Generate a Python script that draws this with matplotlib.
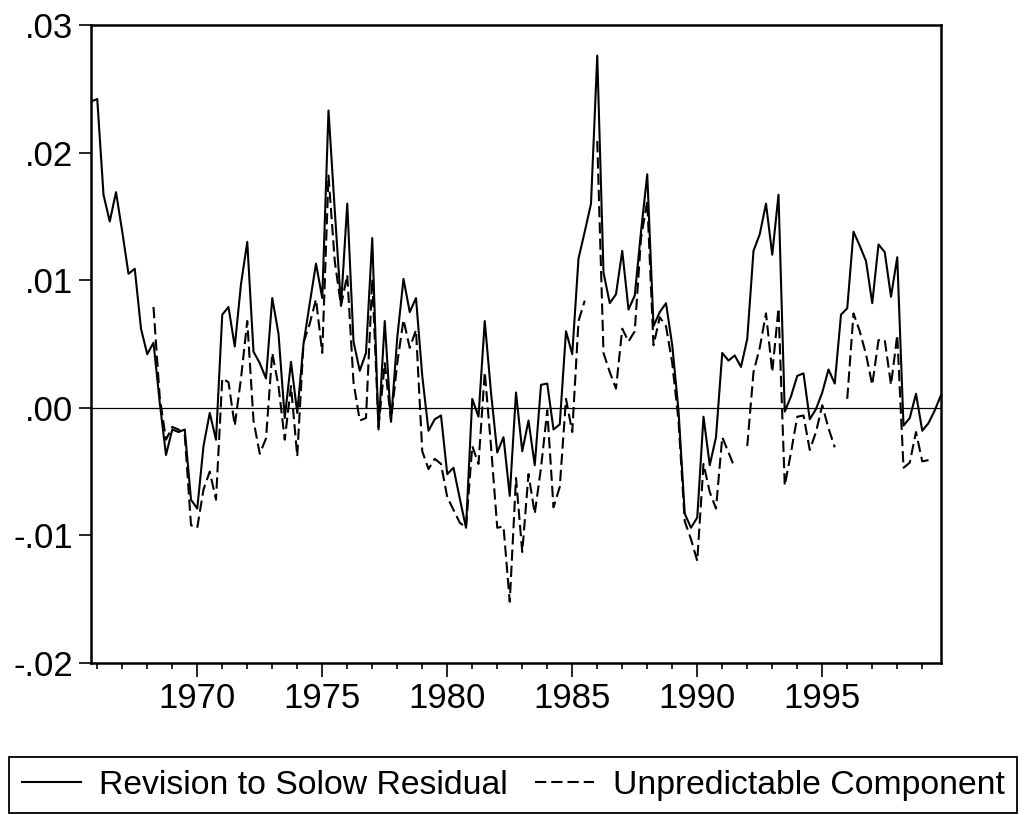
import numpy as np
import pandas as pd
import matplotlib
matplotlib.use('Agg')
from matplotlib import pyplot as plt

# quarterly sample 1965Q4 - 1999Q4
quarters = pd.period_range('1965Q4', '1999Q4', freq='Q')

# Revision to Solow Residual
revision = [
    0.0240, 0.0242, 0.0167, 0.0146, 0.0169, 0.0138, 0.0105, 0.0109, 0.0062, 0.0042,
    0.0051, 0.0004, -0.0037, -0.0017, -0.0019, -0.0017, -0.0072, -0.0079, -0.0030, -0.0004,
    -0.0025, 0.0073, 0.0079, 0.0048, 0.0097, 0.0130, 0.0044, 0.0035, 0.0023, 0.0086,
    0.0058, -0.0008, 0.0036, -0.0004, 0.0050, 0.0082, 0.0113, 0.0086, 0.0233, 0.0155,
    0.0080, 0.0160, 0.0052, 0.0029, 0.0043, 0.0133, -0.0017, 0.0068, -0.0011, 0.0055,
    0.0101, 0.0075, 0.0086, 0.0025, -0.0018, -0.0009, -0.0006, -0.0052, -0.0047, -0.0071,
    -0.0094, 0.0007, -0.0007, 0.0068, 0.0012, -0.0035, -0.0023, -0.0069, 0.0012, -0.0034,
    -0.0010, -0.0045, 0.0018, 0.0019, -0.0017, -0.0013, 0.0060, 0.0042, 0.0117, 0.0138,
    0.0160, 0.0276, 0.0106, 0.0082, 0.0089, 0.0123, 0.0077, 0.0088, 0.0138, 0.0183,
    0.0064, 0.0075, 0.0082, 0.0049, -0.0002, -0.0083, -0.0094, -0.0086, -0.0007, -0.0045,
    -0.0023, 0.0043, 0.0037, 0.0041, 0.0032, 0.0054, 0.0123, 0.0136, 0.0160, 0.0120,
    0.0167, -0.0003, 0.0009, 0.0025, 0.0027, -0.0009, -0.0001, 0.0012, 0.0030, 0.0019,
    0.0073, 0.0078, 0.0138, 0.0127, 0.0115, 0.0082, 0.0128, 0.0122, 0.0087, 0.0118,
    -0.0014, -0.0008, 0.0011, -0.0018, -0.0012, -0.0002, 0.0010,
]

# Unpredictable Component (nan = missing)
nan = np.nan
unpredictable = [
    nan, nan, nan, nan, nan, nan, nan, nan, nan, nan,
    0.0079, 0.0008, -0.0025, -0.0015, -0.0017, -0.0021, -0.0092, -0.0094, -0.0064, -0.0050,
    -0.0072, 0.0023, 0.0020, -0.0014, 0.0023, 0.0068, -0.0010, -0.0036, -0.0024, 0.0043,
    0.0017, -0.0025, 0.0017, -0.0038, 0.0051, 0.0066, 0.0085, 0.0043, 0.0182, 0.0115,
    0.0080, 0.0104, 0.0020, -0.0010, -0.0008, 0.0101, -0.0015, 0.0035, -0.0010, 0.0035,
    0.0069, 0.0047, 0.0061, -0.0034, -0.0048, -0.0040, -0.0044, -0.0070, -0.0080, -0.0090,
    -0.0094, -0.0030, -0.0044, 0.0028, -0.0030, -0.0094, -0.0093, -0.0152, -0.0055, -0.0113,
    -0.0052, -0.0083, -0.0047, -0.0002, -0.0078, -0.0062, 0.0007, -0.0019, 0.0068, 0.0084,
    nan, 0.0209, 0.0043, 0.0028, 0.0015, 0.0062, 0.0052, 0.0060, 0.0133, 0.0162,
    0.0049, 0.0071, 0.0064, 0.0035, -0.0010, -0.0089, -0.0103, -0.0120, -0.0044, -0.0066,
    -0.0079, -0.0023, -0.0035, -0.0047, nan, -0.0030, 0.0028, 0.0047, 0.0074, 0.0028,
    0.0078, -0.0061, -0.0035, -0.0007, -0.0006, -0.0033, -0.0019, 0.0002, -0.0016, -0.0031,
    nan, 0.0007, 0.0074, 0.0060, 0.0042, 0.0018, 0.0053, 0.0053, 0.0018, 0.0057,
    -0.0047, -0.0043, -0.0019, -0.0042, -0.0041, nan, nan,
]

y_ticks = [-0.02, -0.01, 0.00, 0.01, 0.02, 0.03]
y_ticklabels = ['-.02', '-.01', '.00', '.01', '.02', '.03']
year_labels = [1970, 1975, 1980, 1985, 1990, 1995]

plt.rcParams['font.family'] = ['Liberation Sans', 'DejaVu Sans']

x = quarters.year + (quarters.quarter - 1) / 4.0

fig = plt.figure(figsize=(10.26, 8.15), dpi=100)
ax = fig.add_axes([91 / 1026, 1 - 663 / 815, 850 / 1026, 638 / 815])

ax.axhline(0, color='black', lw=0.9, zorder=1)
ax.plot(x, revision, color='black', lw=1.5, label='Revision to Solow Residual')
ax.plot(x, unpredictable, color='black', lw=1.5, dashes=(5.4, 2.4),
        label='Unpredictable Component')

ax.set_xlim(x[0], x[-1])
ax.set_ylim(-0.02, 0.03)
ax.set_yticks(y_ticks)
ax.set_yticklabels(y_ticklabels)
ax.set_xticks(year_labels)
ax.set_xticklabels([str(y) for y in year_labels])
ax.set_xticks([y for y in range(1966, 2000) if y not in year_labels], minor=True)

ax.tick_params(axis='y', direction='out', length=9, width=1.2, pad=4, labelsize=25)
ax.tick_params(axis='x', which='major', direction='out', length=10, width=1.2, pad=4, labelsize=25)
ax.tick_params(axis='x', which='minor', direction='out', length=4.5, width=1.2)
for s in ax.spines.values():
    s.set_linewidth(1.8)

leg = fig.legend(loc='lower center', bbox_to_anchor=(0.5, 0.002), ncol=2, fontsize=24.3,
                 frameon=True, fancybox=False, edgecolor='black', framealpha=1,
                 handlelength=1.75, handletextpad=0.55, columnspacing=0.8,
                 borderpad=0.37, borderaxespad=0)
leg.get_frame().set_linewidth(1.3)

plt.savefig('out.png', dpi=100)
